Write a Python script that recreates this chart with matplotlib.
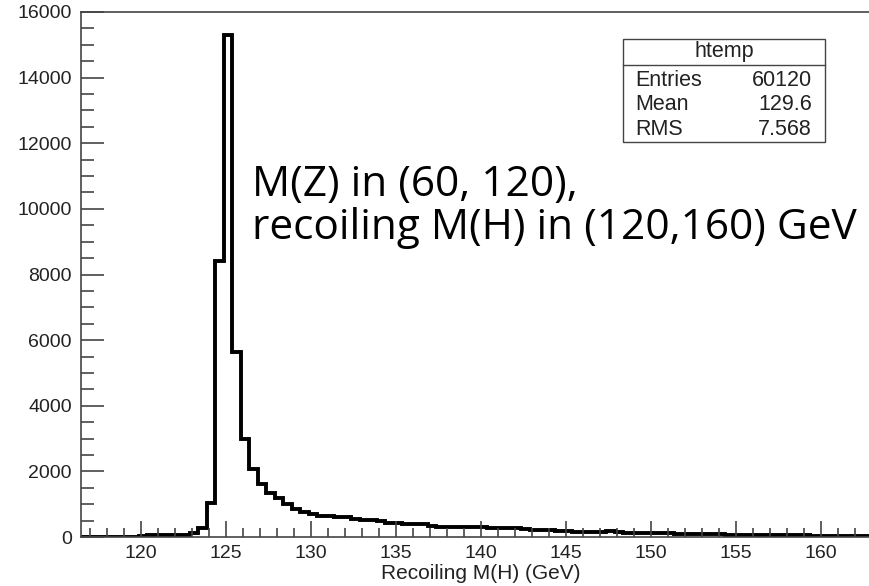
import numpy as np
import matplotlib
matplotlib.use('Agg')
import matplotlib.pyplot as plt
from matplotlib.ticker import MultipleLocator

plt.rcParams['font.family'] = ['Liberation Sans', 'DejaVu Sans']

# histogram htemp: 0.5 GeV bins starting at 116.4
bin_lo = 116.4
bin_w = 0.5
counts = [10, 10, 10, 12, 12, 15, 15, 45, 50, 55,
          60, 65, 75, 130, 270, 1050, 8420, 15300, 5650, 2980,
          2080, 1620, 1340, 1190, 1000, 860, 760, 690, 650, 630,
          620, 610, 560, 530, 520, 480, 440, 420, 400, 395,
          390, 340, 320, 320, 315, 315, 310, 300, 270, 265,
          260, 260, 250, 210, 200, 200, 195, 190, 165, 160,
          165, 160, 170, 155, 130, 125, 120, 115, 110, 110,
          105, 105, 100, 100, 95, 80, 75, 75, 70, 70,
          65, 65, 60, 60, 55, 50, 45, 30, 25, 25,
          20, 20, 20, 15]
edges = bin_lo + bin_w * np.arange(len(counts) + 1)

stats_name = 'htemp'
stats_rows = [('Entries', '60120'), ('Mean', '129.6'), ('RMS', '7.568')]
note_lines = ['M(Z) in (60, 120),', 'recoiling M(H) in (120,160) GeV']

fig = plt.figure(figsize=(8.7, 5.86), dpi=100)
ax = fig.add_axes([81 / 870, 49 / 586, 799 / 870, 525 / 586])

ax.stairs(counts, edges, color='black', lw=2.8, baseline=0)

ax.set_xlim(116.5, 163.5)
ax.set_ylim(0, 16000)
ax.xaxis.set_major_locator(MultipleLocator(5))
ax.xaxis.set_minor_locator(MultipleLocator(1))
ax.yaxis.set_major_locator(MultipleLocator(2000))
ax.yaxis.set_minor_locator(MultipleLocator(500))

ax.tick_params(axis='y', which='major', direction='in', length=16.5, width=1.2,
               color='#444444', labelsize=14, pad=6.5, labelcolor='#222222')
ax.tick_params(axis='y', which='minor', direction='in', length=9, width=1.2, color='#444444')
ax.tick_params(axis='x', which='major', direction='in', length=11.5, width=1.2,
               color='#444444', labelsize=14, pad=6, labelcolor='#222222')
ax.tick_params(axis='x', which='minor', direction='in', length=6.5, width=1.2, color='#444444')

for s in ['left', 'top', 'bottom']:
    ax.spines[s].set_color('#444444')
    ax.spines[s].set_linewidth(1.2)
ax.spines['right'].set_visible(False)

ax.set_xlabel('Recoiling M(H) (GeV)', fontsize=15, color='#222222', labelpad=1)

# stats box
bx0, bx1, by0, by1 = 623 / 870, 825 / 870, 1 - 142 / 586, 1 - 39 / 586
fig.patches.append(plt.Rectangle((bx0, by0), bx1 - bx0, by1 - by0, transform=fig.transFigure,
                                 facecolor='white', edgecolor='#444444', lw=1.0, zorder=5))
fig.lines.append(plt.Line2D([bx0, bx1], [1 - 65 / 586] * 2, transform=fig.transFigure,
                            color='#444444', lw=1.0, zorder=6))
fig.text((bx0 + bx1) / 2, 1 - 52 / 586, stats_name, ha='center', va='center', fontsize=15.5,
         color='#222222', zorder=7)
for i, (name, val) in enumerate(stats_rows):
    yy = 1 - (80 + 24.5 * i) / 586
    fig.text(635 / 870, yy, name, ha='left', va='center', fontsize=15.5, color='#222222', zorder=7)
    fig.text(812 / 870, yy, val, ha='right', va='center', fontsize=15.5, color='#222222', zorder=7)

fig.text(252 / 870, 1 - 185 / 586, note_lines[0], ha='left', va='center', fontsize=30.5,
         family=['Open Sans', 'DejaVu Sans'])
fig.text(252 / 870, 1 - 228 / 586, note_lines[1], ha='left', va='center', fontsize=30.5,
         family=['Open Sans', 'DejaVu Sans'])

fig.savefig('out.png', dpi=100)
